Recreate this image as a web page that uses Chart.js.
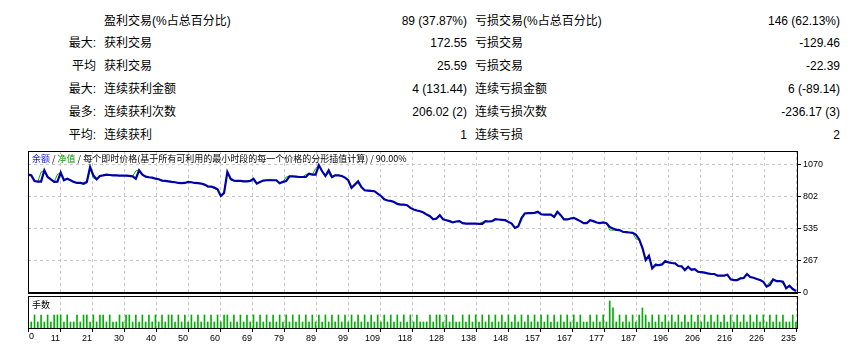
<!DOCTYPE html>
<html><head><meta charset="utf-8">
<script src="https://cdn.jsdelivr.net/npm/chart.js@4.4.1/dist/chart.umd.min.js"></script>
<style>
html,body{margin:0;padding:0;background:#fff;width:857px;height:347px;overflow:hidden;position:relative;font-family:"Liberation Sans","Noto Sans CJK SC",sans-serif;}
.t{position:absolute;font-size:12px;line-height:16px;white-space:nowrap;color:#000;}
.r{text-align:right;}
canvas{position:absolute;left:0;}
.small{position:absolute;font-size:9px;line-height:11px;white-space:nowrap;color:#000;font-family:"Noto Sans CJK SC","Liberation Sans",sans-serif;}
</style></head><body>
<div id="stats"></div>
<canvas id="main" width="857" height="160" style="top:140px"></canvas>
<canvas id="vol" width="857" height="57" style="top:290px"></canvas>
<div class="small" id="title" style="left:32px;top:153px"></div>
<div class="small" id="lotTitle" style="left:32px;top:299px"></div>
<script>
// ---------- data ----------
const statPrefix = ["", "最大:", "平均", "最大:", "最多:", "平均:"];
const winLabels = ["盈利交易(%占总百分比)", "获利交易", "获利交易", "连续获利金额", "连续获利次数", "连续获利"];
const winValues = ["89 (37.87%)", "172.55", "25.59", "4 (131.44)", "206.02 (2)", "1"];
const lossLabels = ["亏损交易(%占总百分比)", "亏损交易", "亏损交易", "连续亏损金额", "连续亏损次数", "连续亏损"];
const lossValues = ["146 (62.13%)", "-129.46", "-22.39", "6 (-89.14)", "-236.17 (3)", "2"];

const seriesNames = ["余额", "净值"];
const chartNote = "每个即时价格(基于所有可利用的最小时段的每一个价格的分形插值计算)";
const modelQuality = "90.00%";
const lotTitle = "手数";

const xTickLabels = ["0","11","21","30","40","50","60","69","79","89","99","109","118","128","138","148","157","167","177","187","196","206","216","226","235"];
const yTickLabels = ["0","267","535","802","1070"];
const yTickValues = [0, 267.5, 535, 802.5, 1070];

const balance = [
989,983,935,930,930,1025,969,950,928,930,
1006,942,955,942,928,919,919,914,928,1053,
983,950,978,983,989,986,983,983,981,981,
981,978,975,955,1025,989,972,967,964,955,
950,939,936,933,928,925,919,917,919,928,
925,919,917,914,905,891,889,880,866,810,
836,1012,955,939,936,936,933,933,936,955,
914,928,939,942,942,942,942,917,928,936,
975,975,972,969,969,969,997,989,989,1067,
1017,978,1025,969,983,983,978,964,942,878,
905,933,886,858,855,852,850,830,810,783,
772,769,760,744,738,738,733,710,697,688,
682,671,654,641,615,621,649,615,607,599,
588,596,599,582,579,579,579,579,576,576,
599,596,599,615,613,610,607,593,579,543,
554,621,663,666,666,668,677,657,654,654,
654,635,677,649,613,613,621,627,613,599,
582,582,607,599,588,582,588,582,551,537,
526,524,510,507,504,501,487,448,376,273,
309,203,231,231,236,264,253,248,245,223,
220,189,217,192,197,175,172,167,161,156,
156,142,142,142,150,111,105,105,119,122,
156,131,125,114,105,91,50,64,111,97,
97,91,36,58,30,13];

const equity = [
989,983,935,930,1010,1025,969,950,928,990,
1006,942,955,942,928,919,919,905,919,1053,
960,950,978,983,989,986,983,983,981,981,
981,978,975,1020,1025,989,972,967,964,955,
950,939,936,933,928,925,919,917,919,928,
925,919,917,914,905,886,889,872,860,810,
836,1012,942,939,936,936,933,933,936,936,
914,928,939,942,950,942,942,917,928,969,
975,975,972,969,969,990,997,989,1040,1067,
1017,978,1000,960,983,983,978,964,942,878,
905,920,878,858,855,852,850,830,810,783,
772,769,760,744,738,738,733,710,697,688,
682,671,650,641,615,615,649,615,607,599,
588,596,599,582,579,579,579,579,576,590,
599,596,599,612,613,610,607,593,579,543,
554,640,663,666,666,668,677,654,654,654,
654,630,677,649,613,613,621,627,613,599,
582,582,607,599,588,582,588,582,524,524,
526,524,510,507,504,501,452,440,370,273,
309,203,245,231,236,264,253,248,245,223,
220,189,217,192,197,175,172,167,161,156,
156,142,142,142,150,111,105,105,125,122,
156,131,125,114,105,91,50,91,111,97,
97,80,36,58,30,13];

// lots for trades 1..235
const lots = [
0.01,0.02,0.01,0.02,0.01,0.02,0.01,0.02,0.02,0.02,
0.01,0.02,0.01,0.01,0.02,0.01,0.02,0.02,0.01,0.02,
0.01,0.02,0.02,0.01,0.02,0.01,0.01,0.02,0.01,0.02,
0.02,0.01,0.02,0.01,0.02,0.01,0.02,0.01,0.02,0.01,
0.02,0.01,0.02,0.02,0.01,0.02,0.01,0.02,0.01,0.02,
0.01,0.02,0.01,0.02,0.01,0.02,0.01,0.02,0.01,0.02,
0.02,0.01,0.02,0.01,0.02,0.01,0.02,0.01,0.02,0.01,
0.02,0.01,0.02,0.01,0.02,0.01,0.02,0.01,0.02,0.01,
0.02,0.01,0.02,0.01,0.02,0.01,0.02,0.01,0.02,0.01,
0.02,0.01,0.02,0.01,0.02,0.01,0.02,0.01,0.02,0.01,
0.02,0.01,0.02,0.01,0.02,0.01,0.02,0.01,0.02,0.01,
0.02,0.01,0.02,0.01,0.02,0.01,0.02,0.01,0.02,0.01,
0.01,0.01,0.02,0.01,0.02,0.02,0.01,0.02,0.01,0.02,
0.01,0.01,0.02,0.01,0.02,0.01,0.02,0.01,0.02,0.01,
0.02,0.01,0.02,0.01,0.02,0.01,0.02,0.01,0.02,0.01,
0.02,0.01,0.02,0.01,0.02,0.01,0.02,0.01,0.02,0.01,
0.02,0.01,0.02,0.01,0.02,0.01,0.02,0.01,0.02,0.01,
0.01,0.02,0.01,0.02,0.01,0.02,0.01,0.04,0.03,0.01,
0.02,0.01,0.02,0.01,0.02,0.01,0.02,0.03,0.02,0.01,
0.02,0.01,0.02,0.01,0.02,0.01,0.02,0.01,0.02,0.01,
0.02,0.01,0.02,0.01,0.02,0.01,0.02,0.01,0.02,0.01,
0.02,0.01,0.02,0.01,0.02,0.01,0.02,0.01,0.02,0.01,
0.02,0.01,0.02,0.01,0.02,0.01,0.02,0.01,0.02,0.01,
0.02,0.01,0.01,0.02,0.01];

// ---------- layout (positions only) ----------
const rowCenters = [20.7, 43.3, 65.7, 89.0, 111.7, 134.8];
const stats = document.getElementById('stats');
function addText(txt, x, cy, alignRight) {
  const d = document.createElement('div');
  d.className = 't' + (alignRight ? ' r' : '');
  d.textContent = txt;
  d.style.top = (cy - 8) + 'px';
  if (alignRight) { d.style.right = (857 - x) + 'px'; } else { d.style.left = x + 'px'; }
  stats.appendChild(d);
}
rowCenters.forEach((cy, i) => {
  if (statPrefix[i]) addText(statPrefix[i], 96, cy, true);
  addText(winLabels[i], 104, cy, false);
  addText(winValues[i], 467, cy, true);
  addText(lossLabels[i], 475, cy, false);
  addText(lossValues[i], 840, cy, true);
});
const title = document.getElementById('title');
title.innerHTML = '<span style="color:#1a1ad0">' + seriesNames[0] + '</span> / <span style="color:#00a000">' + seriesNames[1] + '</span> / ' + chartNote + ' / ' + modelQuality;
document.getElementById('lotTitle').textContent = lotTitle;

const X_MAX = 235 * 770 / 768;
const xTickValues = xTickLabels.map((_, i) => i * 235 / 24);

const makeFrame = (bottomWidth) => ({
  id: 'frame',
  afterDraw(chart) {
    const {ctx, chartArea: a} = chart;
    ctx.save();
    ctx.strokeStyle = '#000';
    ctx.lineWidth = 1;
    const l = Math.round(a.left) + 0.5, t = Math.round(a.top) + 0.5;
    const r = Math.round(a.right) - 0.5, b = Math.round(a.bottom) - 0.5;
    ctx.strokeRect(l, t, r - l, b - t);
    if (bottomWidth > 1) {
      ctx.fillStyle = '#000';
      ctx.fillRect(l - 0.5, b - 0.5, r - l + 1, bottomWidth);
    }
    ctx.restore();
  }
});

const gridColor = '#c8c8c8';

new Chart(document.getElementById('main'), {
  type: 'line',
  data: {
    datasets: [
      {label: seriesNames[0], data: balance.map((v, i) => ({x: i, y: v})), borderColor: '#0000a8', borderWidth: 2.2, pointRadius: 0, tension: 0, order: 0},
      {label: seriesNames[1], data: equity.map((v, i) => ({x: i, y: v})), borderColor: '#00b000', borderWidth: 1, pointRadius: 0, tension: 0, order: 1}
    ]
  },
  options: {
    responsive: false, animation: false,
    layout: {padding: {left: 28, top: 11, right: 0, bottom: 7}},
    plugins: {legend: {display: false}, tooltip: {enabled: false}},
    scales: {
      x: {
        type: 'linear', min: 0, max: X_MAX,
        afterBuildTicks: s => { s.ticks = xTickValues.map(v => ({value: v})); },
        afterFit: s => { s.height = 0; },
        ticks: {display: false},
        grid: {color: gridColor, drawTicks: false, lineWidth: 1},
        border: {display: false, dash: [3, 3]}
      },
      y: {
        position: 'right', min: 0, max: 1187,
        afterBuildTicks: s => { s.ticks = yTickValues.map(v => ({value: v})); },
        afterFit: s => { s.width = 59; },
        ticks: {callback: (v, i) => yTickLabels[i], color: '#000', padding: 2, font: {family: 'Liberation Sans', size: 9}},
        grid: {color: gridColor, tickColor: '#000', tickLength: 3, tickBorderDash: [], lineWidth: 1},
        border: {display: false, dash: [3, 3]}
      }
    }
  },
  plugins: [makeFrame(2)]
});

const zeroLabelPlugin = {
  id: 'zeroLabel',
  afterDraw(chart) {
    const {ctx, chartArea: a} = chart;
    ctx.save();
    ctx.fillStyle = '#000';
    ctx.font = '9px "Liberation Sans"';
    ctx.textAlign = 'left';
    ctx.textBaseline = 'middle';
    ctx.fillText(xTickLabels[0], Math.round(a.left) + 1, a.bottom + 8);
    ctx.restore();
  }
};

new Chart(document.getElementById('vol'), {
  type: 'bar',
  data: {
    datasets: [{label: lotTitle, data: lots.map((v, i) => ({x: i + 1, y: v})), backgroundColor: '#00b000', barThickness: 1}]
  },
  options: {
    responsive: false, animation: false,
    layout: {padding: {left: 28, top: 6, right: 59, bottom: 0}},
    plugins: {legend: {display: false}, tooltip: {enabled: false}},
    scales: {
      x: {
        type: 'linear', min: 0, max: X_MAX, offset: false,
        afterBuildTicks: s => { s.ticks = xTickValues.map(v => ({value: v})); },
        afterFit: s => { s.height = 18; },
        ticks: {autoSkip: false, maxRotation: 0, align: 'end', padding: 1, color: '#000', font: {family: 'Liberation Sans', size: 9},
          callback: (v, i) => i === 0 ? '' : xTickLabels[i]},
        grid: {color: gridColor, tickColor: '#000', tickLength: 3, tickBorderDash: [], offset: false},
        border: {display: false, dash: [3, 3]}
      },
      y: {display: false, min: 0, max: 0.047}
    }
  },
  plugins: [makeFrame(1), zeroLabelPlugin]
});
</script>
</body></html>
